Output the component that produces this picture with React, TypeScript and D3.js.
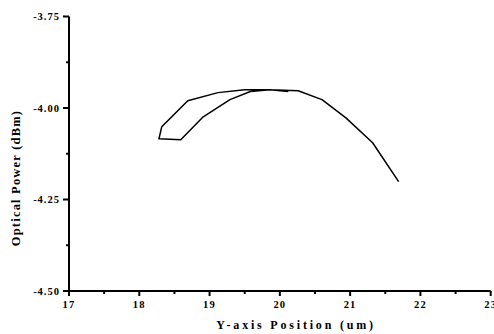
import React from "react";
import * as d3 from "d3";

const xPos = [20.12, 19.86, 19.58, 19.29, 18.91, 18.59, 18.28, 18.32, 18.69, 19.12, 19.5, 19.86, 20.26, 20.6, 20.94, 21.32, 21.69];
const power = [-3.955, -3.95, -3.955, -3.977, -4.024, -4.087, -4.084, -4.051, -3.98, -3.958, -3.95, -3.95, -3.953, -3.977, -4.027, -4.095, -4.201];
const xTicks = [17, 18, 19, 20, 21, 22, 23];
const yTicks = [-3.75, -4.0, -4.25, -4.5];
const xTitle = "Y-axis Position (um)";
const yTitle = "Optical Power (dBm)";

const W = 494, H = 334;
const font = "'Liberation Serif', 'Times New Roman', serif";

export default function App() {
  const x = d3.scaleLinear().domain([17, 23]).range([69, 490.7]);
  const y = d3.scaleLinear().domain([-3.75, -4.5]).range([16.5, 291]);
  const pts = xPos.map((v, i) => [x(v), y(power[i])] as [number, number]);
  const line = d3.line();
  const xMinor = d3.range(17.5, 23, 1);
  const yMinor = [-3.875, -4.125, -4.375];
  return (
    <svg width={W} height={H} style={{ position: "absolute", left: 0, top: 0, background: "#fff" }}>
      <path d={line(pts) || ""} fill="none" stroke="#000" strokeWidth={1.5} strokeLinejoin="round" />
      <line x1={x(17)} x2={x(23)} y1={y(-4.5)} y2={y(-4.5)} stroke="#000" strokeWidth={2} />
      <line x1={x(17)} x2={x(17)} y1={y(-3.75)} y2={y(-4.5)} stroke="#000" strokeWidth={2} />
      {xTicks.map((t) => (
        <g key={"xt" + t}>
          <line x1={x(t)} x2={x(t)} y1={y(-4.5)} y2={y(-4.5) + 5} stroke="#000" strokeWidth={2} />
          <text x={x(t)} y={y(-4.5) + 17} textAnchor="middle" fontFamily={font} fontWeight="bold" fontSize={10.5} letterSpacing={1.2}>{t}</text>
        </g>
      ))}
      {xMinor.map((t) => (
        <line key={"xm" + t} x1={x(t)} x2={x(t)} y1={y(-4.5)} y2={y(-4.5) + 3} stroke="#000" strokeWidth={2} />
      ))}
      {yTicks.map((t) => (
        <g key={"yt" + t}>
          <line x1={x(17) - 6} x2={x(17)} y1={y(t)} y2={y(t)} stroke="#000" strokeWidth={2} />
          <text x={x(17) - 9} y={y(t) + 3.5} textAnchor="end" fontFamily={font} fontWeight="bold" fontSize={10.5} letterSpacing={1}>{d3.format(".2f")(t).replace("−", "-")}</text>
        </g>
      ))}
      {yMinor.map((t) => (
        <line key={"ym" + t} x1={x(17) - 3} x2={x(17)} y1={y(t)} y2={y(t)} stroke="#000" strokeWidth={2} />
      ))}
      <text x={296} y={329} textAnchor="middle" fontFamily={font} fontWeight="bold" fontSize={12} letterSpacing={2.8}>{xTitle}</text>
      <text transform={`translate(19.5,178) rotate(-90)`} textAnchor="middle" fontFamily={font} fontWeight="bold" fontSize={12.5} letterSpacing={1.2}>{yTitle}</text>
    </svg>
  );
}
